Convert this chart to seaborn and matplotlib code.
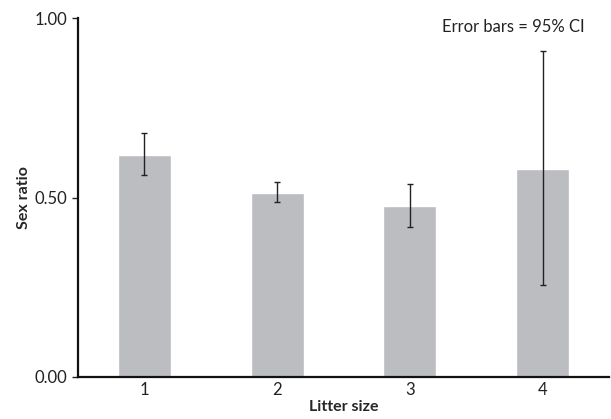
import numpy as np
import pandas as pd
import seaborn as sns
import matplotlib.pyplot as plt

# Data
litter_size = ['1', '2', '3', '4']
sex_ratio = [0.620, 0.514, 0.476, 0.581]
ci_low = [0.564, 0.487, 0.417, 0.255]
ci_high = [0.680, 0.543, 0.538, 0.910]

df = pd.DataFrame({'Litter size': litter_size, 'Sex ratio': sex_ratio})

sns.set_style('ticks')
plt.rcParams['font.family'] = ['Lato', 'DejaVu Sans']

fig = plt.figure(figsize=(6.11, 4.19), dpi=100)
ax = fig.add_axes([0.1277, 0.101, 0.869, 0.855])

sns.barplot(data=df, x='Litter size', y='Sex ratio', color='#bcbdc1',
            width=0.4, errorbar=None, saturation=1, ax=ax)

# 95% CI error bars
x = np.arange(len(litter_size))
yerr = [np.array(sex_ratio) - np.array(ci_low), np.array(ci_high) - np.array(sex_ratio)]
ax.errorbar(x, sex_ratio, yerr=yerr, fmt='none', ecolor='#222222',
            elinewidth=1.0, capsize=2, capthick=1.0)

ax.set_xlim(-0.5, 3.5)
ax.set_ylim(0, 1.0)
ax.set_yticks([0, 0.5, 1.0])
ax.set_yticklabels(['0.00', '0.50', '1.00'])
ax.tick_params(axis='x', length=0, labelsize=12, colors='#222222', pad=4)
ax.tick_params(axis='y', length=4, width=1, labelsize=12, colors='#222222')
for s in ['left', 'bottom']:
    ax.spines[s].set_linewidth(1.6)
    ax.spines[s].set_color('#111111')
sns.despine(ax=ax)

ax.set_xlabel('Litter size', fontsize=11.5, fontweight='bold', labelpad=1)
ax.set_ylabel('Sex ratio', fontsize=11.5, fontweight='bold', labelpad=3)
ax.text(0.955, 0.975, 'Error bars = 95% CI', transform=ax.transAxes,
        ha='right', va='center', fontsize=12, color='#222222')

plt.savefig('out.png', dpi=100)
